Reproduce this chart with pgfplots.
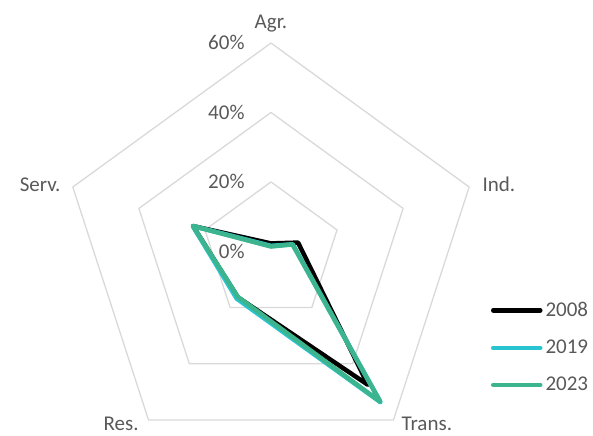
\documentclass[border=0pt]{standalone}
\usepackage{fontspec}
\setmainfont{Carlito}
\usepackage{pgfplots}
\usepackage{pgfplotstable}
\pgfplotsset{compat=1.18}
\usepgfplotslibrary{polar}

\definecolor{gridgray}{HTML}{D9D9D9}
\definecolor{labelgray}{HTML}{595959}
\definecolor{c2019}{HTML}{29C4D2}
\definecolor{c2023}{HTML}{3CB48E}

% angle (deg), share in % ; last row closes the polygon
\pgfplotstableread{
angle v2008 v2019 v2023
90    2.3   1.6   1.4
18    8.2   6.6   6.5
-54   47.5  53.7  53.5
-126  16.3  16.8  16.2
162   23.6  23.7  23.6
90    2.3   1.6   1.4
}\shares

\newcommand{\chartfont}{\fontsize{21}{25}\selectfont}

\begin{document}
\begin{tikzpicture}[font=\chartfont]
\begin{axis}[
    x=3.473pt, y=3.473pt,
    xmin=-78.03, xmax=92.72,
    ymin=-53.15, ymax=72.39,
    hide axis,
    clip=false,
    legend cell align=left,
    legend image code/.code={
        \draw[#1, line width=4.5pt, line cap=round] (0pt,0pt) -- (47pt,0pt);
    },
    legend style={
        at={(axis cs:63.35,-14.68)}, anchor=north west,
        draw=none, fill=none, inner sep=0pt, outer sep=0pt,
        font=\chartfont, text=labelgray,
        row sep=22pt, column sep=3pt,
        nodes={inner sep=0pt},
    },
    grid line/.style={gridgray, line width=1.3pt, line join=round, data cs=polar, forget plot},
    series/.style={line width=4.5pt, line join=round, line cap=round, data cs=polar},
]
    \path (axis cs:-78.03,-53.15) rectangle (axis cs:92.72,72.39);

    % pentagon grid
    \addplot[grid line] coordinates {(90,20) (18,20) (-54,20) (-126,20) (162,20) (90,20)};
    \addplot[grid line] coordinates {(90,40) (18,40) (-54,40) (-126,40) (162,40) (90,40)};
    \addplot[grid line] coordinates {(90,60) (18,60) (-54,60) (-126,60) (162,60) (90,60)};

    \addplot[series, black] table[x=angle, y=v2008] {\shares};
    \addlegendentry{2008}
    \addplot[series, c2019] table[x=angle, y=v2019] {\shares};
    \addlegendentry{2019}
    \addplot[series, c2023] table[x=angle, y=v2023] {\shares};
    \addlegendentry{2023}

    % radial tick labels
    \node[anchor=base east, text=labelgray] at (axis cs:-6.6,-2.0) {0\%};
    \node[anchor=base east, text=labelgray] at (axis cs:-6.6,18.0) {20\%};
    \node[anchor=base east, text=labelgray] at (axis cs:-6.6,38.0) {40\%};
    \node[anchor=base east, text=labelgray] at (axis cs:-6.6,58.0) {60\%};

    % category labels
    \node[anchor=base, text=labelgray] at (axis cs:0,64.3) {Agr.};
    \node[anchor=base west, text=labelgray] at (axis cs:59.9,17.2) {Ind.};
    \node[anchor=base west, text=labelgray] at (axis cs:36.6,-51.7) {Trans.};
    \node[anchor=base east, text=labelgray] at (axis cs:-37.1,-51.7) {Res.};
    \node[anchor=base east, text=labelgray] at (axis cs:-59.6,17.2) {Serv.};
\end{axis}
\end{tikzpicture}
\end{document}
